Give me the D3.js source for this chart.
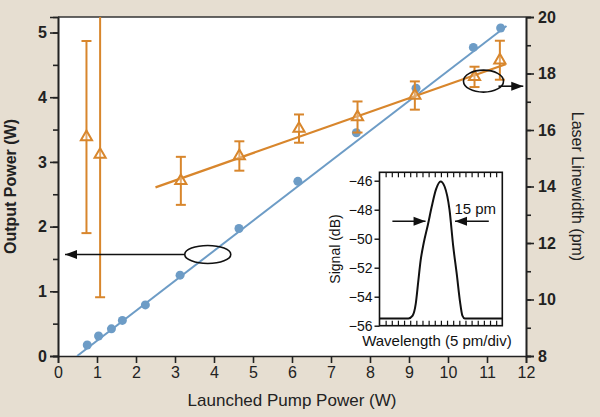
<!DOCTYPE html>
<html>
<head>
<meta charset="utf-8">
<script src="https://d3js.org/d3.v7.min.js"></script>
<style>
    body { margin: 0; background: #e6ded1; font-family: "Liberation Sans", Arial, sans-serif; }
    .tick text { font-family: "Liberation Sans", Arial, sans-serif; }
</style>
</head>
<body>
<div id="chart"></div>
<script>
// output power vs launched pump power (left axis)
const pumpPower = [0.75, 1.04, 1.37, 1.65, 2.24, 3.13, 4.64, 6.15, 7.65, 9.18, 10.65, 11.35];
const outputPower = [0.17, 0.31, 0.42, 0.55, 0.79, 1.25, 1.97, 2.70, 3.45, 4.14, 4.77, 5.07];
const powerFit = [[0.49, 0], [11.5, 5.1]];

// laser linewidth (right axis)
const lwPump = [0.73, 1.08, 3.15, 4.65, 6.18, 7.68, 9.15, 10.68, 11.33];
const linewidth = [15.75, 15.13, 14.2, 15.08, 16.05, 16.46, 17.22, 17.88, 18.47];
const lwError = [3.4, 5.05, 0.85, 0.52, 0.5, 0.55, 0.5, 0.36, 0.69];
const lwFit = [[2.5, 13.97], [11.48, 18.33]];

// inset spectrum (x in divisions, y in dB)
const specDiv = [0, 4.7, 5.4, 5.9, 6.3, 6.7, 7.2, 7.9, 8.5, 9.2, 9.95, 10.6, 11.4, 12.0, 12.6, 13.1, 13.5, 13.9, 20];
const specDb = [-55.5, -55.5, -55.3, -54.5, -53, -51.5, -50.3, -49, -47.8, -46.6, -46.05, -46.4, -48.0, -50.5, -52.5, -54.3, -55.3, -55.5, -55.5];
const insetTicks = [-56, -54, -52, -50, -48, -46];

const W = 600, H = 417;
const margin = { top: 17, right: 74, bottom: 61, left: 58 };
const innerW = W - margin.left - margin.right;
const innerH = H - margin.top - margin.bottom;

const blue = "#6d9cc6";
const orange = "#d8862c";

const svg = d3.select("#chart").append("svg")
    .attr("width", W)
    .attr("height", H);

svg.append("rect").attr("width", W).attr("height", H).attr("fill", "#e6ded1");

const g = svg.append("g").attr("transform", `translate(${margin.left},${margin.top})`);

g.append("rect").attr("width", innerW).attr("height", innerH).attr("fill", "#fff");

const defs = svg.append("defs");
defs.append("clipPath").attr("id", "plotclip")
    .append("rect").attr("width", innerW).attr("height", innerH);
defs.append("marker")
    .attr("id", "arrow")
    .attr("viewBox", "0 -5 12 10")
    .attr("refX", 12).attr("refY", 0)
    .attr("orient", "auto")
    .attr("markerUnits", "userSpaceOnUse")
    .attr("markerWidth", 13).attr("markerHeight", 10)
    .append("path").attr("d", "M0,-4.5L12,0L0,4.5Z").attr("fill", "#111");

const x = d3.scaleLinear().domain([0, 12]).range([0, innerW]);
const yL = d3.scaleLinear().domain([0, 5.24]).range([innerH, 0]);
const yR = d3.scaleLinear().domain([8, 20]).range([innerH, 0]);

// axes
function styleAxis(sel) {
    sel.select(".domain").attr("stroke", "#222").attr("stroke-width", 1.6);
    sel.selectAll(".tick line").attr("stroke", "#222").attr("stroke-width", 1.6);
    sel.selectAll(".tick text").attr("fill", "#222").style("font-size", "16px");
}

g.append("g").attr("transform", `translate(0,${innerH})`)
    .call(d3.axisBottom(x).tickValues(d3.range(0, 13)).tickSize(7).tickPadding(4).tickFormat(d3.format("d")))
    .call(styleAxis);

g.append("g")
    .call(d3.axisLeft(yL).tickValues(d3.range(0, 5.01, 0.5)).tickSize(5).tickFormat(""))
    .call(styleAxis);
g.append("g")
    .call(d3.axisLeft(yL).tickValues(d3.range(0, 6)).tickSize(8).tickPadding(3).tickFormat(d3.format("d")))
    .call(styleAxis)
    .selectAll(".tick text").style("font-weight", "bold");

g.append("g").attr("transform", `translate(${innerW},0)`)
    .call(d3.axisRight(yR).tickValues(d3.range(8, 21, 1)).tickSize(5).tickFormat(""))
    .call(styleAxis);
g.append("g").attr("transform", `translate(${innerW},0)`)
    .call(d3.axisRight(yR).tickValues(d3.range(8, 21, 2)).tickSize(8).tickPadding(4).tickFormat(d3.format("d")))
    .call(styleAxis)
    .selectAll(".tick text").style("font-weight", "bold");

// top frame line
g.append("line").attr("x1", 0).attr("x2", innerW).attr("y1", 0).attr("y2", 0)
    .attr("stroke", "#333").attr("stroke-width", 1.6);

// axis titles
g.append("text")
    .attr("transform", `translate(${-42},${innerH / 2}) rotate(-90)`)
    .attr("text-anchor", "middle")
    .style("font-size", "16px").style("font-weight", "bold").attr("fill", "#222")
    .text("Output Power (W)");
g.append("text")
    .attr("transform", `translate(${innerW + 46},${innerH / 2}) rotate(90)`)
    .attr("text-anchor", "middle")
    .style("font-size", "16px").attr("fill", "#222")
    .text("Laser Linewidth (pm)");
g.append("text")
    .attr("x", innerW / 2).attr("y", innerH + 50)
    .attr("text-anchor", "middle")
    .style("font-size", "17px").attr("fill", "#222")
    .text("Launched Pump Power (W)");

const plot = g.append("g").attr("clip-path", "url(#plotclip)");

// output power fit + points
plot.append("line")
    .attr("x1", x(powerFit[0][0])).attr("y1", yL(powerFit[0][1]))
    .attr("x2", x(powerFit[1][0])).attr("y2", yL(powerFit[1][1]))
    .attr("stroke", blue).attr("stroke-width", 2);
plot.selectAll(".pt").data(pumpPower).enter().append("circle")
    .attr("class", "pt")
    .attr("cx", d => x(d))
    .attr("cy", (d, i) => yL(outputPower[i]))
    .attr("r", 4.5)
    .attr("fill", blue);

// linewidth fit, error bars, triangles
plot.append("line")
    .attr("x1", x(lwFit[0][0])).attr("y1", yR(lwFit[0][1]))
    .attr("x2", x(lwFit[1][0])).attr("y2", yR(lwFit[1][1]))
    .attr("stroke", orange).attr("stroke-width", 2.2);

const lw = lwPump.map((p, i) => ({ p, v: linewidth[i], e: lwError[i] }));
const eb = plot.selectAll(".eb").data(lw).enter().append("g").attr("class", "eb")
    .attr("stroke", orange).attr("stroke-width", 2).attr("fill", "none");
eb.append("line")
    .attr("x1", d => x(d.p)).attr("x2", d => x(d.p))
    .attr("y1", d => yR(d.v + d.e)).attr("y2", d => yR(d.v - d.e));
eb.append("line")
    .attr("x1", d => x(d.p) - 5).attr("x2", d => x(d.p) + 5)
    .attr("y1", d => yR(d.v + d.e)).attr("y2", d => yR(d.v + d.e));
eb.append("line")
    .attr("x1", d => x(d.p) - 5).attr("x2", d => x(d.p) + 5)
    .attr("y1", d => yR(d.v - d.e)).attr("y2", d => yR(d.v - d.e));
eb.append("path")
    .attr("transform", d => `translate(${x(d.p)},${yR(d.v)})`)
    .attr("d", d3.symbol(d3.symbolTriangle, 54))
    .attr("fill", "#fff").attr("fill-opacity", 0.3);

// annotation ellipses + arrows
g.append("ellipse")
    .attr("cx", x(3.84)).attr("cy", yL(1.57)).attr("rx", 23).attr("ry", 9)
    .attr("fill", "none").attr("stroke", "#111").attr("stroke-width", 1.6);
g.append("line")
    .attr("x1", x(3.84) - 23).attr("y1", yL(1.57))
    .attr("x2", x(0.18)).attr("y2", yL(1.57))
    .attr("stroke", "#111").attr("stroke-width", 1.6).attr("marker-end", "url(#arrow)");

g.append("ellipse")
    .attr("cx", x(10.91)).attr("cy", yR(17.73)).attr("rx", 20).attr("ry", 11)
    .attr("fill", "none").attr("stroke", "#111").attr("stroke-width", 1.6);
g.append("line")
    .attr("x1", x(10.91) + 15).attr("y1", yR(17.55))
    .attr("x2", x(11.93)).attr("y2", yR(17.55))
    .attr("stroke", "#111").attr("stroke-width", 1.6).attr("marker-end", "url(#arrow)");

// inset
const inset = svg.append("g").attr("transform", "translate(379.5,172.3)");
const iw = 122.8, ih = 153.4;
const ix = d3.scaleLinear().domain([0, 20]).range([0, iw]);
const iy = d3.scaleLinear().domain([-56, -45.42]).range([ih, 0]);

inset.append("rect").attr("width", iw).attr("height", ih).attr("fill", "#fff");

inset.append("g").attr("transform", `translate(0,0)`)
    .call(d3.axisBottom(ix).tickValues(d3.range(1, 20)).tickSize(5).tickFormat(""))
    .call(s => s.select(".domain").remove())
    .selectAll(".tick line").attr("stroke", "#111").attr("stroke-width", 1.2);
inset.append("g").attr("transform", `translate(0,${ih})`)
    .call(d3.axisTop(ix).tickValues(d3.range(1, 20)).tickSize(5).tickFormat(""))
    .call(s => s.select(".domain").remove())
    .selectAll(".tick line").attr("stroke", "#111").attr("stroke-width", 1.2);

const iyAxis = inset.append("g")
    .call(d3.axisLeft(iy).tickValues(insetTicks).tickSize(5).tickPadding(2).tickFormat(d => "\u2212" + Math.abs(d)));
iyAxis.select(".domain").remove();
iyAxis.selectAll(".tick line").attr("stroke", "#111").attr("stroke-width", 1.4);
iyAxis.selectAll(".tick text").attr("fill", "#111").style("font-size", "14px");

inset.append("path")
    .datum(specDiv.map((d, i) => [d, specDb[i]]))
    .attr("d", d3.line().x(d => ix(d[0])).y(d => iy(d[1])).curve(d3.curveMonotoneX))
    .attr("fill", "none").attr("stroke", "#111").attr("stroke-width", 2);

inset.append("rect").attr("width", iw).attr("height", ih)
    .attr("fill", "none").attr("stroke", "#111").attr("stroke-width", 1.6);

inset.append("line")
    .attr("x1", ix(2.1)).attr("x2", ix(7.5)).attr("y1", iy(-48.8)).attr("y2", iy(-48.8))
    .attr("stroke", "#111").attr("stroke-width", 1.6).attr("marker-end", "url(#arrow)");
inset.append("line")
    .attr("x1", ix(17.8)).attr("x2", ix(12.3)).attr("y1", iy(-48.8)).attr("y2", iy(-48.8))
    .attr("stroke", "#111").attr("stroke-width", 1.6).attr("marker-end", "url(#arrow)");
inset.append("text")
    .attr("x", ix(12.2)).attr("y", iy(-48.3))
    .style("font-size", "15px").attr("fill", "#111")
    .text("15 pm");

inset.append("text")
    .attr("transform", `translate(-40,${ih / 2}) rotate(-90)`)
    .attr("text-anchor", "middle")
    .style("font-size", "14px").attr("fill", "#111")
    .text("Signal (dB)");
inset.append("text")
    .attr("x", iw / 2 - 4).attr("y", ih + 20)
    .attr("text-anchor", "middle")
    .style("font-size", "15px").attr("fill", "#111")
    .text("Wavelength (5 pm/div)");
</script>
</body>
</html>
